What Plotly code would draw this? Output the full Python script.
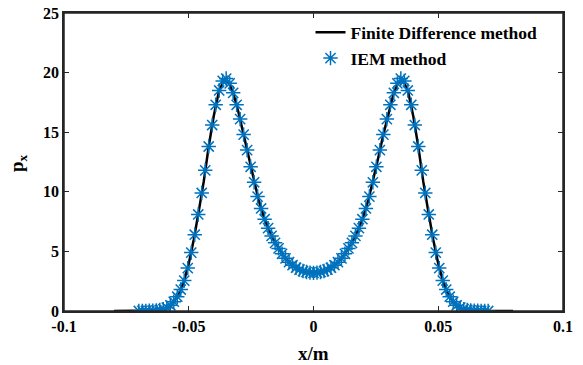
import plotly.graph_objects as go

# Finite difference solution (line), x from -0.08 to 0.08, step 0.002
fd_x = [round(-0.08 + 0.002 * i, 4) for i in range(81)]
fd_y = [0.0, 0.0, 0.0, 0.0, 0.0, 0.0, 0.01, 0.02, 0.04, 0.08,
        0.18, 0.36, 0.78, 1.37, 2.44, 3.97, 5.97, 8.36, 10.85, 13.8,
        16.33, 18.33, 19.36, 19.21, 18.16, 16.61, 14.8, 12.9, 10.99, 9.31,
        7.96, 6.86, 5.97, 5.25, 4.64, 4.15, 3.78, 3.52, 3.34, 3.24,
        3.2,
        3.24, 3.34, 3.52, 3.78, 4.15, 4.64, 5.25, 5.97, 6.86, 7.96,
        9.31, 10.99, 12.9, 14.8, 16.61, 18.16, 19.21, 19.36, 18.33, 16.33,
        13.8, 10.85, 8.36, 5.97, 3.97, 2.44, 1.37, 0.78, 0.36, 0.18,
        0.08, 0.04, 0.02, 0.01, 0.0, 0.0, 0.0, 0.0, 0.0, 0.0]

# IEM method (markers), x from -0.07 to 0.07, step 0.0014
iem_x = [round(-0.07 + 0.0014 * i, 5) for i in range(101)]
iem_y = [0.0, 0.01, 0.01, 0.02, 0.03, 0.05, 0.09, 0.16, 0.28, 0.48,
         0.78, 1.2, 1.8, 2.55, 3.6, 4.9, 6.4, 8.1, 9.9, 11.8,
         13.8, 15.6, 17.3, 18.5, 19.3, 19.5, 19.1, 18.3, 17.3, 16.1,
         14.8, 13.5, 12.1, 10.8, 9.6, 8.6, 7.7, 6.95, 6.3, 5.72,
         5.25, 4.8, 4.42, 4.1, 3.84, 3.63, 3.47, 3.35, 3.27, 3.22,
         3.2,
         3.22, 3.27, 3.35, 3.47, 3.63, 3.84, 4.1, 4.42, 4.8, 5.25,
         5.72, 6.3, 6.95, 7.7, 8.6, 9.6, 10.8, 12.1, 13.5, 14.8,
         16.1, 17.3, 18.3, 19.1, 19.5, 19.3, 18.5, 17.3, 15.6, 13.8,
         11.8, 9.9, 8.1, 6.4, 4.9, 3.6, 2.55, 1.8, 1.2, 0.78,
         0.48, 0.28, 0.16, 0.09, 0.05, 0.03, 0.02, 0.01, 0.01, 0.0]

x_ticks = [-0.1, -0.05, 0, 0.05, 0.1]
x_ticklabels = ["-0.1", "-0.05", "0", "0.05", "0.1"]
y_ticks = [0, 5, 10, 15, 20, 25]
x_title = "x/m"
y_title = "p<sub>x</sub>"

FONT = "Liberation Serif"
AX = "#262626"

fig = go.Figure()
fig.add_trace(go.Scatter(
    x=fd_x, y=fd_y, mode="lines", name="Finite Difference method",
    line=dict(color="black", width=2.5)))
fig.add_trace(go.Scatter(
    x=iem_x, y=iem_y, mode="markers", name="IEM method",
    marker=dict(symbol="asterisk-open", size=12, color="#0072BD",
                line=dict(color="#0072BD", width=1.5))))

axis_common = dict(showline=True, linecolor=AX, linewidth=1.5, mirror="ticks",
                   ticks="inside", ticklen=5, tickwidth=1.3, tickcolor=AX,
                   showgrid=False, zeroline=False, ticklabeloverflow="allow",
                   tickfont=dict(family=FONT, size=16, color="black", weight="bold"))

fig.update_xaxes(range=[-0.1, 0.1], tickvals=x_ticks, ticktext=x_ticklabels, **axis_common)
fig.update_yaxes(range=[0, 25], tickvals=y_ticks, **axis_common)

# axis titles
title_font = dict(family=FONT, size=19, color="black", weight="bold")
fig.add_annotation(text=x_title, xref="paper", yref="paper", x=0.5, y=-0.141,
                   xanchor="center", yanchor="middle", showarrow=False, font=title_font)
fig.add_annotation(text=y_title, xref="paper", yref="paper", x=-0.092, y=0.497,
                   xanchor="center", yanchor="middle", showarrow=False, textangle=-90,
                   font=title_font)

# plot-area frame
fig.add_shape(type="rect", xref="paper", yref="paper", x0=0, y0=0, x1=1, y1=1,
              line=dict(color=AX, width=1.5), fillcolor="rgba(0,0,0,0)", layer="above")

fig.update_layout(
    width=583, height=365,
    margin=dict(l=64, r=20, t=13, b=54, autoexpand=False),
    plot_bgcolor="white", paper_bgcolor="white",
    showlegend=True,
    legend=dict(x=0.494, y=0.995, xanchor="left", yanchor="top",
                bgcolor="rgba(255,255,255,0)", borderwidth=0,
                font=dict(family=FONT, size=17.5, color="black", weight="bold"),
                tracegroupgap=0),
)

fig.write_html("out.html",
               config={"displayModeBar": False},
               post_script="document.body.style.margin='0';document.body.style.overflow='hidden';")
